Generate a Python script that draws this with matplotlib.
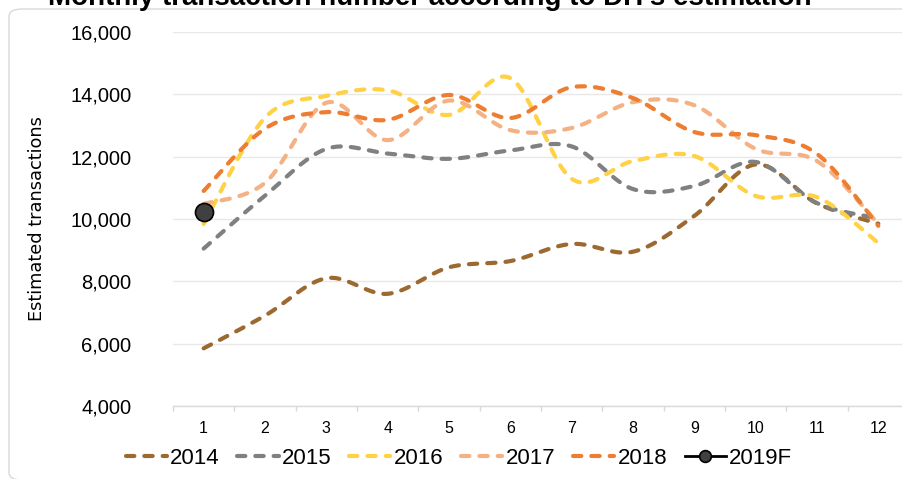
import numpy as np
import matplotlib
matplotlib.use("Agg")
import matplotlib.pyplot as plt
from matplotlib.patches import FancyBboxPatch
from matplotlib.ticker import FuncFormatter, FixedLocator

# --- data ---
months = list(range(1, 13))
years = ["2014", "2015", "2016", "2017", "2018"]
v2014 = [5850, 6900, 8100, 7600, 8450, 8650, 9200, 8950, 10100, 11750, 10500, 9850]
v2015 = [9050, 10750, 12250, 12100, 11930, 12200, 12330, 10960, 11060, 11830, 10510, 10020]
v2016 = [9840, 13250, 13950, 14130, 13340, 14520, 11290, 11860, 12020, 10740, 10700, 9230]
v2017 = [10480, 11160, 13730, 12530, 13800, 12850, 12920, 13750, 13650, 12250, 11860, 9840]
v2018 = [10900, 12900, 13430, 13180, 13980, 13240, 14230, 13880, 12790, 12690, 12090, 9780]
v2019f = [10220]
colors = ["#9C6A31", "#808080", "#FFD145", "#F4B183", "#ED7D31"]


def smooth(xs, ys, n=30):
    # Excel-like smoothed line: cubic bezier with catmull-rom control points
    xs = np.asarray(xs, float)
    ys = np.asarray(ys, float)
    out_x, out_y = [], []
    t = np.linspace(0, 1, n)
    for i in range(len(xs) - 1):
        i0, i3 = max(i - 1, 0), min(i + 2, len(xs) - 1)
        p0 = np.array([xs[i0], ys[i0]])
        p1 = np.array([xs[i], ys[i]])
        p2 = np.array([xs[i + 1], ys[i + 1]])
        p3 = np.array([xs[i3], ys[i3]])
        c1 = p1 + (p2 - p0) / 6
        c2 = p2 - (p3 - p1) / 6
        b = ((1 - t) ** 3)[:, None] * p1 + (3 * (1 - t) ** 2 * t)[:, None] * c1 \
            + (3 * (1 - t) * t ** 2)[:, None] * c2 + (t ** 3)[:, None] * p2
        out_x.extend(b[:, 0])
        out_y.extend(b[:, 1])
    return out_x, out_y


W, H = 903, 479
fig = plt.figure(figsize=(W / 100, H / 100), dpi=100)
plt.rcParams["font.family"] = ["Liberation Sans", "DejaVu Sans"]

# rounded frame around the chart (cropped on the right / bottom)
frame = FancyBboxPatch((9 / W, 1 - 480 / H), 930 / W, 471 / H,
                       boxstyle="round,pad=0,rounding_size=0.015",
                       transform=fig.transFigure, facecolor="none",
                       edgecolor="#D9D9D9", linewidth=1.0, zorder=-5)
fig.patches.append(frame)

# title, cut off by the top edge as in the source screenshot
fig.text(48 / W, 1 - 5 / H, "Monthly transaction number according to DH's estimation",
         fontsize=20, fontweight="bold", ha="left", va="baseline", color="black")

left, right = 173, 909
bottom_px, top_px = 406, 32
ax = fig.add_axes([left / W, 1 - bottom_px / H, (right - left) / W, (bottom_px - top_px) / H])
ax.set_facecolor("none")
ax.set_zorder(2)

series = [v2014, v2015, v2016, v2017, v2018]
for name, vals, col in zip(years, series, colors):
    sx, sy = smooth(months, vals)
    ax.plot(sx, sy, color=col, lw=3.0, dashes=(2.0, 2.4),
            dash_capstyle="round", solid_capstyle="round", zorder=3)
    ax.plot([], [], color=col, lw=3.0, dashes=(2.0, 2.4),
            dash_capstyle="round", label=name)

ax.plot(months[:len(v2019f)], v2019f, color="black", lw=2, marker="o",
        markersize=13, markerfacecolor="#404040", markeredgecolor="black",
        markeredgewidth=1.2, zorder=5, label="2019F")

ax.set_xlim(0.5, 12.5)
ax.set_ylim(4000, 16000)
ax.set_yticks(range(4000, 16001, 2000))
ax.yaxis.set_major_formatter(FuncFormatter(lambda v, p: f"{int(v):,}"))
ax.set_xticks(months)
ax.xaxis.set_minor_locator(FixedLocator([m + 0.5 for m in range(0, 13)]))
ax.tick_params(axis="y", length=0, pad=30, labelsize=14.5, labelcolor="black")
ax.tick_params(axis="x", which="major", length=0, pad=11, labelsize=11.5)
ax.tick_params(axis="x", which="minor", length=3.5, width=1, color="#D9D9D9")
ax.grid(axis="y", color="#E8E8E8", lw=1)
ax.set_axisbelow(True)
for s in ["left", "right", "top"]:
    ax.spines[s].set_visible(False)
ax.spines["bottom"].set_color("#D9D9D9")
ax.spines["bottom"].set_linewidth(1)

ax.set_ylabel("Estimated transactions", fontsize=12.8, family="DejaVu Sans")
ax.yaxis.set_label_coords((46 - left) / (right - left), 0.5)

handles, labels = ax.get_legend_handles_labels()
fig.legend(handles, labels, loc="center", bbox_to_anchor=(459 / W, 1 - 458 / H),
           ncol=6, frameon=False, fontsize=16, handlelength=1.85,
           handletextpad=0.15, columnspacing=0.8, markerscale=0.65)

fig.savefig("out.png", dpi=100)
